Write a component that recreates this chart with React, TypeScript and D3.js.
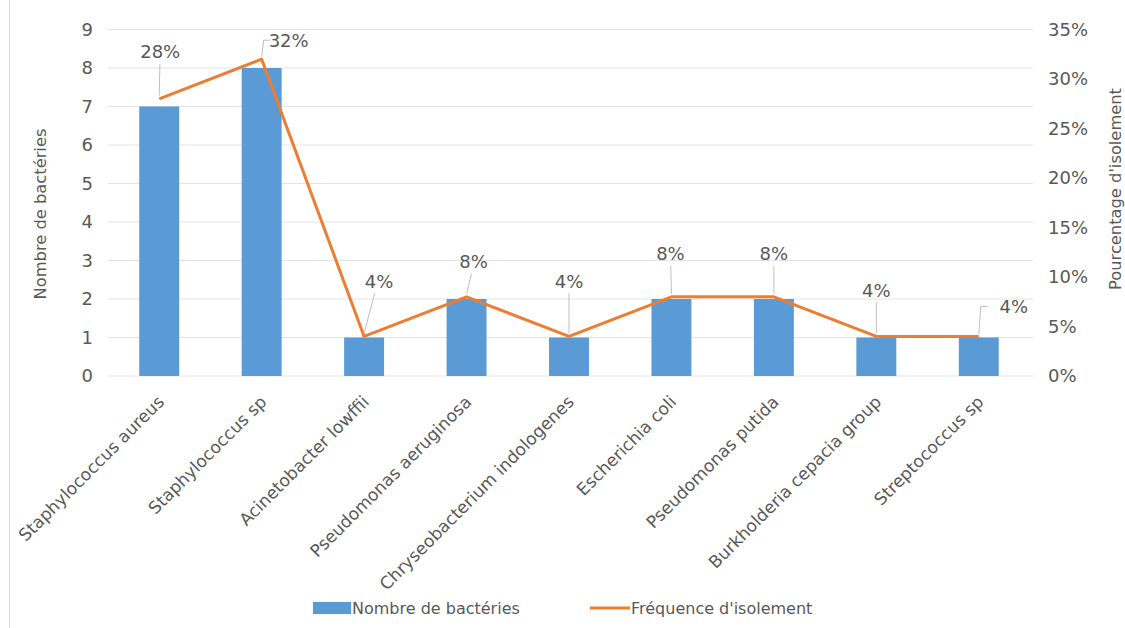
import React from "react";
import * as d3 from "d3";

const categories = [
  "Staphylococcus aureus",
  "Staphylococcus sp",
  "Acinetobacter lowffii",
  "Pseudomonas aeruginosa",
  "Chryseobacterium indologenes",
  "Escherichia coli",
  "Pseudomonas putida",
  "Burkholderia cepacia group",
  "Streptococcus sp",
];
const counts = [7, 8, 1, 2, 1, 2, 2, 1, 1];
const frequencies = [0.28, 0.32, 0.04, 0.08, 0.04, 0.08, 0.08, 0.04, 0.04];
const leftTicks = [0, 1, 2, 3, 4, 5, 6, 7, 8, 9];
const rightTicks = [0, 0.05, 0.1, 0.15, 0.2, 0.25, 0.3, 0.35];
// label offsets (dx, dy) relative to point, in px
const labelOffsets: [number, number][] = [
  [1, -47],
  [27, -19],
  [15, -55],
  [7, -35],
  [0, -55],
  [-1, -43],
  [0, -43],
  [0, -46],
  [35, -30],
];

const W = 1125;
const H = 628;
const left = 108;
const right = 1030;
const top = 29.5;
const bottom = 376;
const FONT = "'DejaVu Sans', 'Noto Sans', sans-serif";
const TXT = "#595959";

export default function App() {
  const x = d3.scaleBand<string>().domain(categories).range([left, right]).paddingInner(0.61).paddingOuter(0.305);
  const yL = d3.scaleLinear().domain([0, 9]).range([bottom, top]);
  const yR = d3.scaleLinear().domain([0, 0.35]).range([bottom, top]);
  const cx = (c: string) => (x(c) ?? 0) + x.bandwidth() / 2;
  const line = d3
    .line<number>()
    .x((_, i) => cx(categories[i]))
    .y((d) => yR(d));
  const pct = d3.format(".0%");

  return (
    <svg width={W} height={H} style={{ position: "absolute", left: 0, top: 0, background: "#fff" }} fontFamily={FONT}>
      <line x1={9.5} x2={9.5} y1={0} y2={H} stroke="#d9d9d9" />
      {leftTicks.map((t) => (
        <line key={t} x1={left} x2={right + 3} y1={yL(t)} y2={yL(t)} stroke="#e3e3e3" strokeWidth={1} />
      ))}
      {leftTicks.map((t) => (
        <text key={t} x={93} y={yL(t)} dy="0.35em" textAnchor="end" fontSize={18} fill={TXT}>
          {t}
        </text>
      ))}
      {rightTicks.map((t) => (
        <text key={t} x={1048} y={yR(t)} dy="0.35em" textAnchor="start" fontSize={18} fill={TXT}>
          {pct(t)}
        </text>
      ))}
      <text transform={`translate(46,214) rotate(-90)`} textAnchor="middle" fontSize={16.3} fill={TXT}>
        Nombre de bactéries
      </text>
      <text transform={`translate(1121,189) rotate(-90)`} textAnchor="middle" fontSize={16.3} fill={TXT}>
        Pourcentage d'isolement
      </text>
      {categories.map((c, i) => (
        <rect key={c} x={x(c)} y={yL(counts[i])} width={x.bandwidth()} height={yL(0) - yL(counts[i])} fill="#5B9BD5" />
      ))}
      <path d={line(frequencies) ?? ""} fill="none" stroke="#ED7D31" strokeWidth={3} strokeLinejoin="round" />
      {categories.map((c, i) => {
        const px = cx(c);
        const py = yR(frequencies[i]);
        const [dx, dy] = labelOffsets[i];
        const lx = px + dx;
        const ly = py + dy;
        const side = dx > 20;
        return (
          <g key={c}>
            {side ? (
              <polyline
                points={`${px},${py - 2} ${px + 2},${ly} ${px + 9},${ly}`}
                fill="none"
                stroke="#bfbfbf"
                strokeWidth={1}
              />
            ) : (
              <line x1={px} y1={py - 3} x2={px + dx * 0.7} y2={ly + 12} stroke="#bfbfbf" strokeWidth={1} />
            )}
            <text x={lx} y={ly} dy="0.35em" textAnchor="middle" fontSize={18} fill={TXT}>
              {pct(frequencies[i])}
            </text>
          </g>
        );
      })}
      {categories.map((c) => (
        <text
          key={c}
          transform={`translate(${cx(c) + 6},${bottom + 27}) rotate(-45)`}
          textAnchor="end"
          fontSize={17.1}
          fill={TXT}
        >
          {c}
        </text>
      ))}
      <g transform="translate(313,608)">
        <rect x={0} y={-6} width={38} height={12} fill="#5B9BD5" />
        <text x={39} y={0} dy="0.35em" fontSize={16} fill={TXT}>
          Nombre de bactéries
        </text>
        <line x1={277} x2={317} y1={0} y2={0} stroke="#ED7D31" strokeWidth={3} />
        <text x={318} y={0} dy="0.35em" fontSize={16} fill={TXT}>
          Fréquence d'isolement
        </text>
      </g>
    </svg>
  );
}
